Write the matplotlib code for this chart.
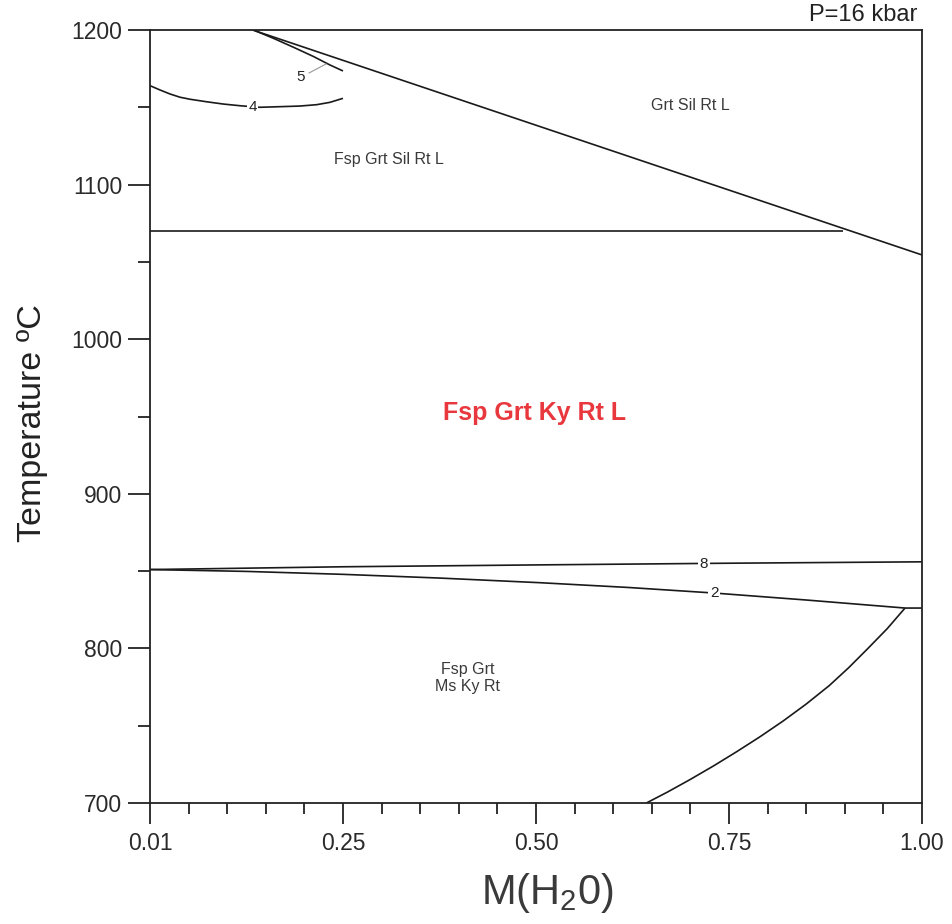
import matplotlib
matplotlib.use("Agg")
import matplotlib.pyplot as plt
from matplotlib.ticker import MultipleLocator

plt.rcParams['font.family'] = ['Liberation Sans', 'DejaVu Sans']
plt.rcParams['mathtext.fontset'] = 'custom'
plt.rcParams['mathtext.rm'] = 'Liberation Sans'
plt.rcParams['mathtext.it'] = 'Liberation Sans'

# ---- data (M(H2O), Temperature °C) ----
sil_x = [0.133, 1.00]
sil_t = [1200.0, 1054.5]

fsp_out_x = [0.0, 0.898]
fsp_out_t = [1070.0, 1070.0]

iso5_x = [0.134, 0.160, 0.186, 0.212, 0.233, 0.250]
iso5_t = [1200.0, 1194.6, 1188.8, 1182.8, 1177.4, 1173.5]

iso4_x = [0.0, 0.013, 0.026, 0.039, 0.052, 0.073, 0.095, 0.117, 0.142,
          0.168, 0.194, 0.216, 0.233, 0.250]
iso4_t = [1164.0, 1161.2, 1158.6, 1156.5, 1155.2, 1153.6, 1152.1, 1151.0,
          1150.0, 1150.4, 1150.8, 1151.7, 1153.2, 1155.8]

iso8_x = [0.0, 0.25, 0.50, 0.75, 1.00]
iso8_t = [851.0, 852.8, 854.0, 855.1, 856.0]

iso2_x = [0.0, 0.125, 0.25, 0.375, 0.505, 0.62, 0.731, 0.85, 0.978, 1.00]
iso2_t = [851.0, 849.8, 847.9, 845.5, 842.5, 839.4, 835.8, 831.3, 826.1, 826.1]

ms_x = [0.978, 0.955, 0.930, 0.905, 0.880, 0.850, 0.820, 0.790, 0.760,
        0.730, 0.699, 0.670, 0.643]
ms_t = [826.1, 812.8, 800.0, 787.5, 776.0, 764.0, 753.0, 742.8, 733.2,
        724.0, 715.0, 707.0, 700.0]

xticks = [0.0, 0.25, 0.50, 0.75, 1.00]
xtick_labels = ['0.01', '0.25', '0.50', '0.75', '1.00']
yticks = [700, 800, 900, 1000, 1100, 1200]

fig = plt.figure(figsize=(9.53, 9.24), dpi=100)
ax = fig.add_axes([150/953, 1-803/924, (922-150)/953, (803-30)/924])

lc = '#1a1a1a'
lw = 1.2
for xs, ts in [(sil_x, sil_t), (fsp_out_x, fsp_out_t), (iso5_x, iso5_t),
               (iso4_x, iso4_t), (iso8_x, iso8_t), (iso2_x, iso2_t), (ms_x, ms_t)]:
    ax.plot(xs, ts, color=lc, lw=lw, solid_capstyle='butt', solid_joinstyle='round')

ax.set_xlim(0, 1)
ax.set_ylim(700, 1200)

# isopleth labels
lab_kw = dict(fontsize=11, color='#222222', ha='center', va='center',
              bbox=dict(facecolor='white', edgecolor='none', pad=1.0))
ax.text(0.133, 1150.0, '4', **lab_kw)
ax.text(0.7176, 854.6, '8', **lab_kw)
ax.text(0.7306, 835.8, '2', **lab_kw)
ax.text(0.1956, 1169.6, '5', fontsize=11, color='#222222', ha='center', va='center')
ax.plot([0.206, 0.228], [1172.2, 1178.0], color='#999999', lw=0.8)

# field labels
txt_c = '#3a3a3a'
ax.text((690-150)/772, 1200-(105-30)/1.546, 'Grt Sil Rt L', fontsize=11.5, color=txt_c, ha='center', va='center')
ax.text((389-150)/772, 1200-(159-30)/1.546, 'Fsp Grt Sil Rt L', fontsize=11.5, color=txt_c, ha='center', va='center')
ax.text((468-150)/772, 1200-(678-30)/1.546, 'Fsp Grt\nMs Ky Rt', fontsize=11.5, color=txt_c, ha='center', va='center', linespacing=1.15)
ax.text((535-150)/772, 1200-(413-30)/1.546, 'Fsp Grt Ky Rt L', fontsize=18, color='#e8383d', fontweight='bold', ha='center', va='center')

fig.text(917/953, 1-15/924, 'P=16 kbar', fontsize=17, color='#222222', ha='right', va='center')

# axes styling
for s in ax.spines.values():
    s.set_linewidth(1.3)
    s.set_color('#222222')

ax.set_xticks(xticks)
ax.set_xticklabels(xtick_labels)
ax.xaxis.set_minor_locator(MultipleLocator(0.05))
ax.set_yticks(yticks)
ax.yaxis.set_minor_locator(MultipleLocator(50))
ax.tick_params(axis='both', which='major', direction='out', color='#222222', width=1.3, labelcolor='#2a2a2a')
ax.tick_params(axis='x', which='major', length=15, labelsize=16.5, pad=6)
ax.tick_params(axis='x', which='minor', length=8, width=1.3, color='#222222')
ax.tick_params(axis='y', which='major', length=16, labelsize=16.5, pad=4)
ax.tick_params(axis='y', which='minor', length=9, width=1.3, color='#222222')

ax.set_xlabel(r'M(H$_\mathrm{2}$0)', fontsize=30, color='#3a3a3a', va='center')
ax.xaxis.set_label_coords((547-150)/772, (803-893)/773)
ax.set_ylabel('Temperature ºC', fontsize=24.5, color='#222222', va='center')
ax.yaxis.set_label_coords((33-150)/772, (803-423)/773)

fig.savefig('out.png', dpi=100, facecolor='white')
